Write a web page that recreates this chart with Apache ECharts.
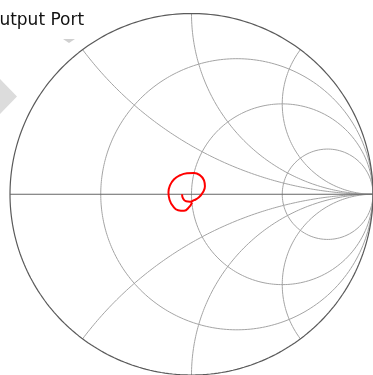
<!DOCTYPE html>
<html>
<head>
<meta charset="utf-8">
<script src="https://cdn.jsdelivr.net/npm/echarts@6/dist/echarts.min.js"></script>
<style>
  html, body { margin: 0; padding: 0; background: #fff; }
  #chart { width: 373px; height: 375px; }
</style>
</head>
<body>
<div id="chart"></div>
<script>
// Smith chart grid: normalised resistance circles and reactance arcs
const resistanceValues = [1 / 3, 1, 3];
const reactanceValues = [0.5, 1, 2, -0.5, -1, -2];

// Measured reflection coefficient of the output port (real / imaginary parts)
const gammaRe = [-0.052, -0.047, -0.030, -0.008, 0.014, 0.041, 0.063, 0.074, 0.069, 0.047,
                 0.014, -0.025, -0.063, -0.096, -0.118, -0.127, -0.121, -0.102, -0.074, -0.041,
                 -0.014, 0.003];
const gammaIm = [0.000, -0.022, -0.039, -0.041, -0.033, -0.017, 0.011, 0.044, 0.077, 0.105,
                 0.118, 0.116, 0.105, 0.083, 0.050, 0.011, -0.030, -0.066, -0.088, -0.091,
                 -0.072, -0.046];

// z = r + jx  ->  Gamma = (z - 1) / (z + 1)
function gammaOf(r, x) {
  const d = (r + 1) * (r + 1) + x * x;
  return [(r * r + x * x - 1) / d, (2 * x) / d];
}

// constant-r circle: sweep x over (-inf, inf)
function resistanceCircle(r) {
  const pts = [[1, 0]];
  const n = 600;
  for (let i = 1; i < n; i++) {
    const t = -Math.PI / 2 + Math.PI * i / n;
    pts.push(gammaOf(r, Math.tan(t)));
  }
  pts.push([1, 0]);
  return pts;
}

// constant-x arc: sweep r over [0, inf)
function reactanceArc(x) {
  const pts = [];
  const n = 600;
  for (let i = 0; i < n; i++) {
    const t = (Math.PI / 2) * i / n;
    pts.push(gammaOf(Math.tan(t), x));
  }
  pts.push([1, 0]);
  return pts;
}

const gridSeries = [];
resistanceValues.forEach(r => gridSeries.push({
  type: 'line', data: resistanceCircle(r), showSymbol: false, silent: true,
  lineStyle: { color: '#a4a4a4', width: 1 }, z: 1
}));
reactanceValues.forEach(x => gridSeries.push({
  type: 'line', data: reactanceArc(x), showSymbol: false, silent: true,
  lineStyle: { color: '#a4a4a4', width: 1 }, z: 1
}));
// outer boundary |Gamma| = 1 (r = 0)
gridSeries.push({
  type: 'line', data: resistanceCircle(0), showSymbol: false, silent: true,
  lineStyle: { color: '#5a5a5a', width: 1.2 }, z: 2
});
// real axis (x = 0)
gridSeries.push({
  type: 'line', data: [[-1, 0], [1, 0]], showSymbol: false, silent: true,
  lineStyle: { color: '#666666', width: 1 }, z: 2
});

const traceData = gammaRe.map((v, i) => [v, gammaIm[i]]);

const chart = echarts.init(document.getElementById('chart'), null, { renderer: 'canvas' });
chart.setOption({
  animation: false,
  backgroundColor: '#ffffff',
  grid: { left: 10, top: 13.5, width: 363, height: 363 },
  xAxis: { type: 'value', min: -1, max: 1, show: false },
  yAxis: { type: 'value', min: -1, max: 1, show: false },
  graphic: [
    {
      type: 'text', z: 10,
      x: -14, y: 12,
      style: {
        text: 'Output Port',
        font: 'normal 17px "DejaVu Sans"',
        fill: '#111111',
        verticalAlign: 'top'
      }
    },
    {
      type: 'polygon', z: 0,
      shape: { points: [[-3, 76], [17, 96.5], [-3, 117]] },
      style: { fill: '#dcdcdc' }
    },
    {
      type: 'polygon', z: 0,
      shape: { points: [[63, 39], [75, 39], [69, 43]] },
      style: { fill: '#d0d0d0' }
    }
  ],
  series: gridSeries.concat([{
    type: 'line',
    data: traceData,
    smooth: true,
    showSymbol: false,
    silent: true,
    lineStyle: { color: '#ff0000', width: 2 },
    z: 5
  }])
});
</script>
</body>
</html>
